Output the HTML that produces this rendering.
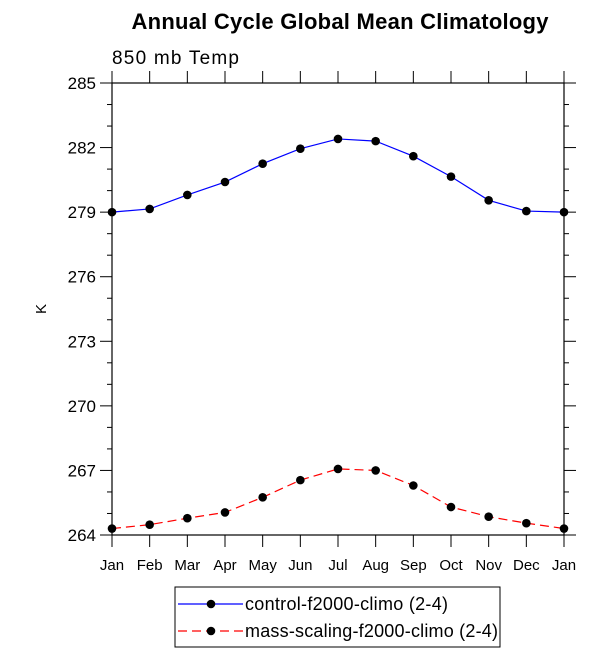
<!DOCTYPE html>
<html><head><meta charset="utf-8"><style>
body{margin:0;background:#fff;}
svg text{font-family:"Liberation Sans",Arial,sans-serif;}
</style></head><body>
<svg id="chart" width="612" height="661" xmlns="http://www.w3.org/2000/svg">
<text x="340" y="29" font-size="22" font-weight="bold" text-anchor="middle" textLength="417">Annual Cycle Global Mean Climatology</text>
<text x="112" y="64" font-size="19" textLength="127">850 mb Temp</text>
<text x="46" y="309" font-size="15" text-anchor="middle" transform="rotate(-90 46 309)">K</text>
<g id="axes"></g>
<g id="series"></g>
<g>
<rect x="175" y="587" width="325" height="60" fill="none" stroke="#000" stroke-width="1"/>
<g>
<line x1="178" y1="604" x2="243" y2="604" stroke="#00f" stroke-width="1.2"/>
<circle cx="211" cy="604" r="4.3" fill="#000"/>
<text x="245" y="610" font-size="18" textLength="203">control-f2000-climo (2-4)</text>
</g>
<g>
<line x1="178" y1="631" x2="243" y2="631" stroke="#f00" stroke-width="1.2" stroke-dasharray="9,5"/>
<circle cx="211" cy="631" r="4.3" fill="#000"/>
<text x="245" y="637" font-size="18" textLength="253">mass-scaling-f2000-climo (2-4)</text>
</g>
</g>
</svg>
<script>
const months = ["Jan","Feb","Mar","Apr","May","Jun","Jul","Aug","Sep","Oct","Nov","Dec","Jan"];
const controlValues = [279.0,279.15,279.8,280.4,281.25,281.95,282.4,282.3,281.6,280.65,279.55,279.05,279.0];
const massValues = [264.3,264.48,264.78,265.05,265.75,266.55,267.07,267.0,266.3,265.3,264.85,264.55,264.3];
const yTicks = [264,267,270,273,276,279,282,285];
const NS="http://www.w3.org/2000/svg";
const L=112,R=564,T=83,B=535,yMin=264,yMax=285;
function xs(i){return L+(R-L)*i/(months.length-1);}
function ys(v){return B-(v-yMin)/(yMax-yMin)*(B-T);}
function mk(tag,attrs,parent){const e=document.createElementNS(NS,tag);for(const k in attrs)e.setAttribute(k,attrs[k]);parent.appendChild(e);return e;}
const ax=document.getElementById('axes');
const frame=mk('rect',{x:L,y:T,width:R-L,height:B-T,fill:'none',stroke:'#000','stroke-width':1.2},ax);


for(let v=yMin;v<=yMax;v++){
  const y=ys(v);const major=(v-yMin)%3===0;const len=major?12:5;
  mk('line',{x1:L-len,y1:y,x2:L,y2:y,stroke:'#000','stroke-width':1},ax);
  mk('line',{x1:R,y1:y,x2:R+len,y2:y,stroke:'#000','stroke-width':1},ax);
}
yTicks.forEach(v=>{
  const t=mk('text',{x:96,y:ys(v)+6,'font-size':17,'text-anchor':'end'},ax);
  t.textContent=v;
  
  
});
months.forEach((m,i)=>{
  const x=xs(i);
  mk('line',{x1:x,y1:B,x2:x,y2:B+12,stroke:'#000','stroke-width':1},ax);
  mk('line',{x1:x,y1:T-12,x2:x,y2:T,stroke:'#000','stroke-width':1},ax);
  const t=mk('text',{x:x,y:570,'font-size':15,'text-anchor':'middle'},ax);
  t.textContent=m;
  
  
});
const sg=document.getElementById('series');
function draw(vals,color,dash,name){
  const g=mk('g',{},sg);
  
  
  const pts=vals.map((v,i)=>xs(i)+','+ys(v)).join(' ');
  const a={points:pts,fill:'none',stroke:color,'stroke-width':1.2};
  if(dash)a['stroke-dasharray']=dash;
  mk('polyline',a,g);
  vals.forEach((v,i)=>{
    const c=mk('circle',{cx:xs(i),cy:ys(v),r:4.3,fill:'#000'},g);
    
    
  });
}
draw(controlValues,'#00f',null,'series-control');
draw(massValues,'#f00','9,5','series-mass-scaling');
</script>
</body></html>
